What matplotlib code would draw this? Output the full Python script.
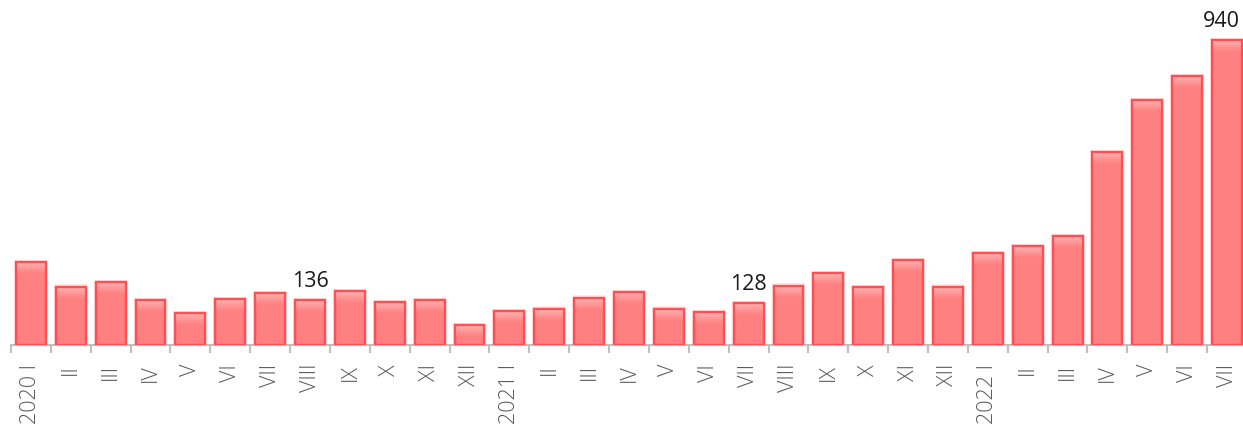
import matplotlib
matplotlib.use("Agg")
import matplotlib.pyplot as plt
import numpy as np
from matplotlib.colors import LinearSegmentedColormap

labels = ["2020 I", "II", "III", "IV", "V", "VI", "VII", "VIII", "IX", "X", "XI", "XII",
          "2021 I", "II", "III", "IV", "V", "VI", "VII", "VIII", "IX", "X", "XI", "XII",
          "2022 I", "II", "III", "IV", "V", "VI", "VII"]
values = [254, 179, 192, 136, 96, 139, 158, 136, 164, 130, 136, 59,
          102, 111, 145, 161, 111, 99, 128, 182, 220, 176, 260, 179,
          281, 303, 334, 594, 754, 829, 940]
annotated = {7: "136", 18: "128", 30: "940"}

plt.rcParams['font.family'] = ['Open Sans', 'DejaVu Sans']

fig = plt.figure(figsize=(12.43, 4.26), dpi=100)
slot = 39.87
left = 11
axw = slot * len(values)
base = 344.5
ax = fig.add_axes([left/1243, 1 - base/426, axw/1243, base/426])

x = np.arange(len(values))
w = 0.75
ymax = 940 * base / (base - 40)
ax.set_xlim(-0.5, len(values) - 0.5)
ax.set_ylim(0, ymax)

# soft glow behind bars
for gw, ga in [(0.86, 0.06), (0.82, 0.08)]:
    ax.bar(x, np.array(values) + ymax * 0.006, width=gw, color="#FF6060", alpha=ga, linewidth=0, zorder=1)

ax.bar(x, values, width=w, color="#FF8080", edgecolor="#FF4F55", linewidth=1.6, zorder=2)

cmap = LinearSegmentedColormap.from_list("g", ["#FF8080", "#FFB0B0"])
grad = np.linspace(0, 1, 50).reshape(-1, 1)
gh = ymax * 12 / base
for xi, v in zip(x, values):
    ax.imshow(grad, cmap=cmap, origin="lower", aspect="auto",
              extent=(xi - w/2, xi + w/2, v - gh, v), zorder=2.5, interpolation="bicubic")
ax.bar(x, values, width=w, fill=False, edgecolor="#FF4F55", linewidth=1.6, zorder=3)

for i, t in annotated.items():
    dx = -4 if i == len(values) - 1 else 0
    ax.annotate(t, (x[i], values[i]), xytext=(dx, 6), textcoords="offset points",
                ha="center", va="bottom", fontsize=15.5, color="#1a1a1a")

for s in ["top", "right", "left"]:
    ax.spines[s].set_visible(False)
ax.spines["bottom"].set_color("#BFBFBF")
ax.spines["bottom"].set_linewidth(1.5)
ax.set_yticks([])
ax.set_xticks(x)
ax.set_xticklabels(labels, rotation=90, fontsize=15.5, color="#595959", fontweight=300)
ax.tick_params(axis="x", which="major", length=0, pad=14)
ax.set_xticks(np.arange(-0.5, len(values), 1), minor=True)
ax.tick_params(axis="x", which="minor", length=6, width=1.5, color="#BFBFBF")

fig.savefig("out.png", dpi=100)
